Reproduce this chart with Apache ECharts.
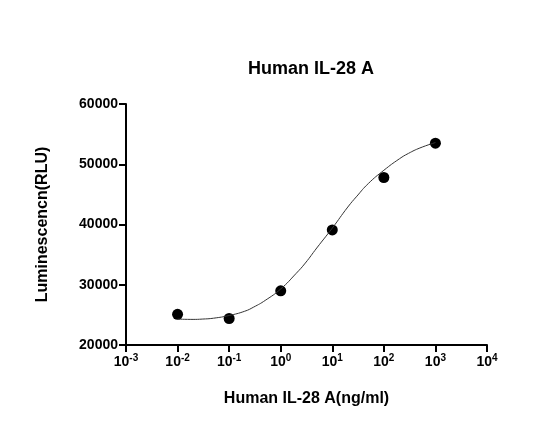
<!DOCTYPE html><html><head><meta charset="utf-8">
<script src="https://cdn.jsdelivr.net/npm/echarts@6/dist/echarts.min.js"></script>
<style>html,body{margin:0;padding:0;background:#fff}#c{width:533px;height:435px}</style></head>
<body><div id="c"></div><script>
const pointX=[0.01,0.1,1,10,100,1000];
const pointY=[25100,24400,29000,39100,47800,53500];
const curveX=[0.01,0.02,0.03,0.05,0.1,0.2,0.3,0.5,1,2,3,5,10,20,30,50,100,200,300,500,1000];
const curveY=[24300,24250,24300,24450,24900,25600,26300,27400,29300,31900,33600,36100,39400,42900,44700,46800,49000,50900,51800,52700,53600];
const chart=echarts.init(document.getElementById('c'));
const F='Liberation Sans, Arial, sans-serif';
chart.setOption({
 animation:false,
 title:{text:'Human IL-28 A',left:306,top:55,textAlign:'center',textStyle:{fontFamily:F,fontSize:18,fontWeight:'bold',color:'#000'}},
 grid:{left:126,right:46,top:104,bottom:90},
 xAxis:{type:'log',logBase:10,min:0.001,max:10000,
  name:'Human IL-28 A(ng/ml)',nameLocation:'middle',nameGap:46,
  nameTextStyle:{fontFamily:F,fontSize:16,fontWeight:'bold',color:'#000'},
  axisLine:{lineStyle:{color:'#000',width:2}},axisTick:{length:7,lineStyle:{color:'#000',width:2}},
  splitLine:{show:false},
  axisLabel:{margin:8,formatter:v=>{const e=Math.round(Math.log10(v));return '{b|10}{s|'+e+'}';},
   rich:{b:{fontFamily:F,fontSize:14,fontWeight:'bold',color:'#000'},s:{fontFamily:F,fontSize:10,fontWeight:'bold',color:'#000',verticalAlign:'top',padding:[0,0,9,0]}}}},
 yAxis:{type:'value',min:20000,max:60000,interval:10000,
  name:'Luminescencn(RLU)',nameLocation:'middle',nameGap:75,
  nameTextStyle:{fontFamily:F,fontSize:16,fontWeight:'bold',color:'#000'},
  axisLine:{show:true,lineStyle:{color:'#000',width:2}},axisTick:{show:true,length:7,lineStyle:{color:'#000',width:2}},
  splitLine:{show:false},
  axisLabel:{margin:8,fontFamily:F,fontSize:14,fontWeight:'bold',color:'#000',formatter:v=>String(v)}},
 series:[
  {type:'line',data:curveX.map((x,i)=>[x,curveY[i]]),smooth:true,showSymbol:false,lineStyle:{color:'#333',width:1}},
  {type:'scatter',data:pointX.map((x,i)=>[x,pointY[i]]),symbolSize:11,itemStyle:{color:'#000',opacity:1}}
 ]
});
</script></body></html>
